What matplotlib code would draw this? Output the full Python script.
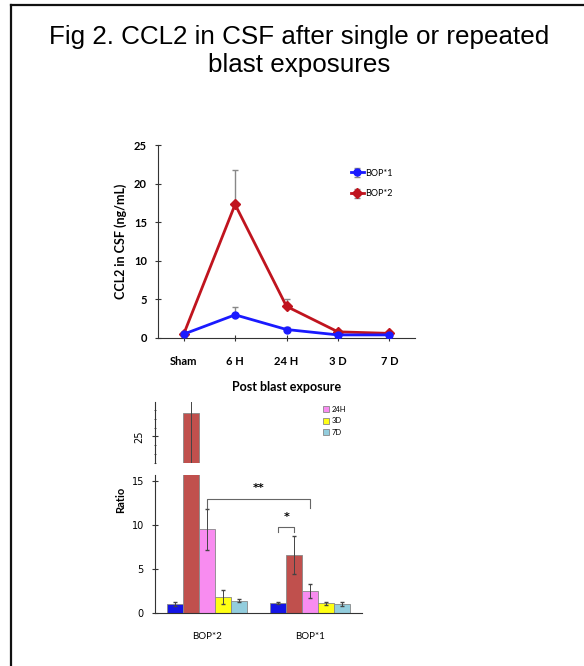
import matplotlib
matplotlib.use("Agg")
import matplotlib.pyplot as plt
import numpy as np

# line chart data
timepoints = ['Sham', '6 H', '24 H', '3 D', '7 D']
bop1 = [0.5, 3.0, 1.1, 0.4, 0.4]
bop1_err = [0.0, 1.0, 0.3, 0.1, 0.1]
bop2 = [0.5, 17.3, 4.1, 0.8, 0.6]
bop2_err = [0.0, 4.4, 1.0, 0.2, 0.1]

# bar chart data (ratio)
groups = ['BOP*2', 'BOP*1']
bar_labels = ['Sham', '6H', '24H', '3D', '7D']
ratio_bop2 = [1.0, 27.7, 9.5, 1.8, 1.4]
ratio_bop2_err = [0.2, 6.0, 2.3, 0.8, 0.2]
ratio_bop1 = [1.1, 6.6, 2.5, 1.1, 1.0]
ratio_bop1_err = [0.1, 2.2, 0.8, 0.2, 0.2]
bar_colors = ['#1414e6', '#c0504d', '#f88cf0', '#ffff14', '#93cddd']

W, H = 584, 666
fig = plt.figure(figsize=(W / 100, H / 100), dpi=100)
fig.patch.set_facecolor('white')

def box(l, t, r, b):
    return [l / W, 1 - b / H, (r - l) / W, (b - t) / H]

# outer frame (left and top edges visible)
fig.add_artist(plt.Line2D([11 / W, 11 / W], [0, 1 - 5 / H], color='#111111', lw=1.6))
fig.add_artist(plt.Line2D([11 / W, 1], [1 - 5 / H, 1 - 5 / H], color='#111111', lw=1.6))

fig.text(299 / W, 1 - 51 / H, 'Fig 2. CCL2 in CSF after single or repeated\nblast exposures',
         ha='center', va='center', fontsize=18.7, family='Liberation Sans', linespacing=1.18)

bold_font = ['Lato', 'DejaVu Sans']

# ---- top: line chart ----
ax1 = fig.add_axes(box(158, 145, 415, 338))
x = np.arange(len(timepoints))
ax1.errorbar(x, bop1, yerr=[np.zeros(len(x)), bop1_err], color='#1a1aff', marker='o', ms=5,
             lw=2, ecolor='#888888', elinewidth=1, capsize=2, label='BOP*1', zorder=3)
ax1.errorbar(x, bop2, yerr=[np.zeros(len(x)), bop2_err], color='#c0141e', marker='D', ms=5,
             lw=2, ecolor='#888888', elinewidth=1, capsize=2, label='BOP*2', zorder=2)
ax1.set_xlim(-0.5, 4.5)
ax1.set_ylim(0, 25)
ax1.set_yticks([0, 5, 10, 15, 20, 25])
ax1.set_xticks(x)
ax1.set_xticklabels(timepoints)
for s in ['top', 'right']:
    ax1.spines[s].set_visible(False)
for s in ['left', 'bottom']:
    ax1.spines[s].set_color('#333333')
ax1.tick_params(axis='both', direction='inout', length=4, labelsize=8, color='#333333')
ax1.tick_params(axis='x', pad=11)
ax1.tick_params(axis='y', pad=6)
for lab in ax1.get_xticklabels() + ax1.get_yticklabels():
    lab.set_family(bold_font)
    lab.set_fontweight('bold')
ax1.set_xlabel('Post blast exposure', fontsize=9, fontweight='bold', family=bold_font, labelpad=10)
ax1.set_ylabel('CCL2 in CSF (ng/mL)', fontsize=9, fontweight='bold', family=bold_font, labelpad=5)
ax1.legend(loc='upper left', bbox_to_anchor=(0.72, 0.92), frameon=False,
           handlelength=1.4, handletextpad=0.2, labelspacing=1.3,
           prop={'family': bold_font, 'size': 6.5})

# ---- bottom: broken bar chart ----
ax_lo = fig.add_axes(box(155, 475, 362, 613))
ax_hi = fig.add_axes(box(155, 402, 362, 463))
gx = np.arange(len(groups))
bw = 0.155
for i in range(5):
    vals = [ratio_bop2[i], ratio_bop1[i]]
    errs = [ratio_bop2_err[i], ratio_bop1_err[i]]
    for ax in (ax_lo, ax_hi):
        ax.bar(gx + (i - 2) * bw, vals, bw, yerr=errs, color=bar_colors[i], edgecolor='#888888',
               lw=0.6, ecolor='#444444', error_kw={'elinewidth': 0.7, 'capsize': 1.5},
               label=bar_labels[i])
ax_lo.set_ylim(0, 15.7)
ax_hi.set_ylim(22.0, 28.9)
for ax in (ax_lo, ax_hi):
    ax.set_xlim(-0.5, 1.5)
    ax.spines['top'].set_visible(False)
    ax.spines['right'].set_visible(False)
    ax.spines['left'].set_color('#333333')
    ax.tick_params(axis='y', direction='inout', length=4, labelsize=7, color='#333333', pad=6)
ax_hi.spines['bottom'].set_visible(False)
ax_hi.set_xticks([])
ax_hi.set_yticks([25])
ax_hi.set_yticks(np.arange(22, 29), minor=True)
ax_hi.tick_params(axis='y', which='minor', direction='inout', length=2, color='#333333')
for lab in ax_hi.get_yticklabels():
    lab.set_rotation(90)
    lab.set_va('center')
ax_lo.set_yticks([0, 5, 10, 15])
ax_lo.spines['bottom'].set_color('#333333')
ax_lo.set_xticks(gx)
ax_lo.set_xticklabels(groups)
ax_lo.tick_params(axis='x', length=0, labelsize=7, pad=14)
for lab in ax_lo.get_xticklabels():
    lab.set_family(bold_font)
ax_lo.set_ylabel('Ratio', fontsize=8, fontweight='bold', family=bold_font)
ax_lo.yaxis.set_label_coords(-0.14, 0.82)

# significance brackets
x_a = gx[0]
x_b = gx[1]
ax_lo.plot([x_a, x_a, x_b, x_b], [12.0, 13.0, 13.0, 12.0], color='#666666', lw=0.8)
ax_lo.text((x_a + x_b) / 2, 13.6, '**', ha='center', va='bottom', fontsize=8, fontweight='bold')
x_c = gx[1] - 2 * bw
x_d = gx[1] - bw
ax_lo.plot([x_c, x_c, x_d, x_d], [9.2, 9.8, 9.8, 9.2], color='#666666', lw=0.8)
ax_lo.text((x_c + x_d) / 2, 10.3, '*', ha='center', va='bottom', fontsize=8, fontweight='bold')

handles, labels = ax_hi.get_legend_handles_labels()
ax_hi.legend(handles[2:], labels[2:], loc='upper left', bbox_to_anchor=(0.78, 1.05), frameon=False,
             prop={'family': bold_font, 'size': 5.5}, handlelength=0.8, handleheight=0.8,
             labelspacing=0.6, handletextpad=0.3)

fig.savefig('out.png', dpi=100)
